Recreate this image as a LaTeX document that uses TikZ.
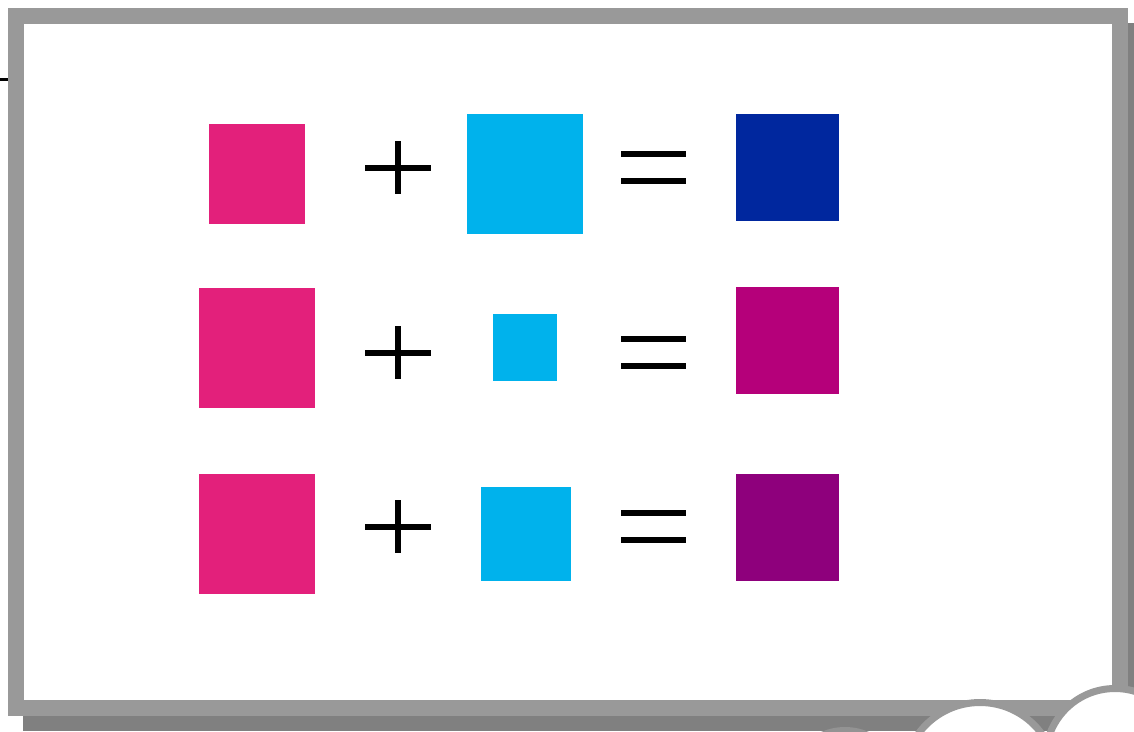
\documentclass[tikz,border=0pt]{standalone}
\definecolor{pinkc}{HTML}{E3207B}
\definecolor{cyanc}{HTML}{00B2EC}
\definecolor{navyc}{HTML}{00279E}
\definecolor{magc}{HTML}{B5007A}
\definecolor{purpc}{HTML}{8E007C}
\definecolor{framec}{HTML}{999999}
\definecolor{shadowc}{HTML}{808080}
\tikzset{
  sq/.style={draw=none, inner sep=0pt, outer sep=0pt},
  bar/.style={line width=6pt},
  cloud/.style={fill=white, draw=framec, line width=7pt}
}
\begin{document}
\begin{tikzpicture}[x=1pt,y=-1pt]
\useasboundingbox (0,0) rectangle (1134,731);
% stray line behind the frame
\draw[line width=3pt] (0,79) -- (12,79);
% shadow and frame
\fill[shadowc] (23,23) rectangle (1143,731);
\filldraw[fill=white, draw=framec, line width=16pt] (16,16) rectangle (1120,708);
% first row
\node[sq, fill=pinkc, minimum width=96pt, minimum height=100pt] (a1) at (257,174) {};
\node[sq, fill=cyanc, minimum width=116pt, minimum height=120pt] (b1) at (525,174) {};
\node[sq, fill=navyc, minimum width=103pt, minimum height=107pt] (c1) at (787.5,167.5) {};
% second row
\node[sq, fill=pinkc, minimum width=116pt, minimum height=120pt] (a2) at (257,348) {};
\node[sq, fill=cyanc, minimum width=64pt, minimum height=67pt] (b2) at (525,347.5) {};
\node[sq, fill=magc, minimum width=103pt, minimum height=107pt] (c2) at (787.5,340.5) {};
% third row
\node[sq, fill=pinkc, minimum width=116pt, minimum height=120pt] (a3) at (257,534) {};
\node[sq, fill=cyanc, minimum width=90pt, minimum height=94pt] (b3) at (526,534) {};
\node[sq, fill=purpc, minimum width=103pt, minimum height=107pt] (c3) at (787.5,527.5) {};
% plus and equals signs
\foreach \y/\e in {168/167.5, 353/352.5, 527/526} {
  \draw[bar] (365,\y) -- (431,\y);
  \draw[bar] (398,\y-27) -- (398,\y+26);
  \draw[bar] (621,\e-13.5) -- (686,\e-13.5);
  \draw[bar] (621,\e+13.5) -- (686,\e+13.5);
}
% clouds at the bottom right
\fill[shadowc!85!white] (845,787) circle (60);
\filldraw[cloud] (980,779) circle (76.5);
\filldraw[cloud] (1115,758) circle (69.5);
\end{tikzpicture}
\end{document}
